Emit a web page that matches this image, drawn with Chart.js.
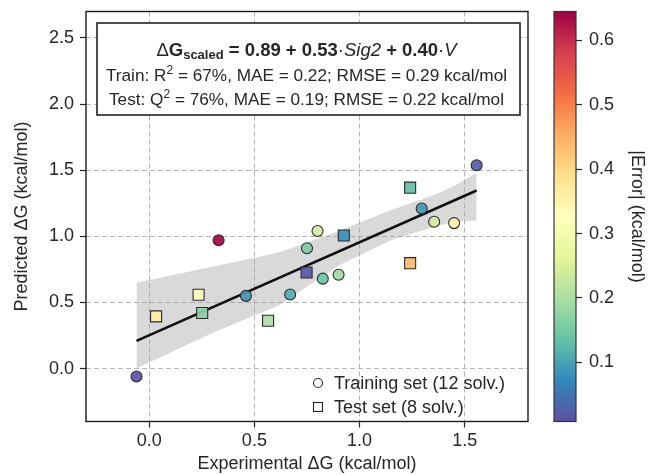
<!DOCTYPE html>
<html><head><meta charset="utf-8">
<script src="https://cdn.jsdelivr.net/npm/chart.js@4/dist/chart.umd.min.js"></script>
<style>html,body{margin:0;padding:0;background:#fff}#wrap{position:relative;width:652px;height:475px}</style>
</head><body><div id="wrap"><canvas id="c" width="652" height="475"></canvas></div>
<script>
// ---- data ----
const trainExp  = [-0.06, 0.33, 0.46, 0.67, 0.75, 0.80, 0.825, 0.90, 1.295, 1.354, 1.449, 1.556];
const trainPred = [-0.06, 0.97, 0.55, 0.56, 0.91, 1.04, 0.68, 0.71, 1.21, 1.11, 1.10, 1.537];
const trainErr  = [0.01, 0.64, 0.09, 0.11, 0.16, 0.24, 0.14, 0.19, 0.09, 0.24, 0.35, 0.02];
const testExp   = [0.033, 0.235, 0.252, 0.565, 0.748, 0.925, 1.24, 1.24];
const testPred  = [0.395, 0.558, 0.42, 0.362, 0.727, 1.006, 1.368, 0.797];
const testErr   = [0.36, 0.32, 0.17, 0.20, 0.02, 0.08, 0.13, 0.44];
const fitX = [-0.06, 1.556];
const fitY = [0.21, 1.347];
const bandX     = [-0.06, 0.3, 0.62, 0.9, 1.15, 1.35, 1.45, 1.556];
const bandUpper = [0.65, 0.77, 0.88, 1.04, 1.20, 1.31, 1.38, 1.48];
const bandLower = [0.00, 0.27, 0.48, 0.78, 0.97, 1.07, 1.11, 1.12];
const xTicks  = [0, 0.5, 1.0, 1.5];
const yTicks  = [0, 0.5, 1.0, 1.5, 2.0, 2.5];
const cbTicks = [0.1, 0.2, 0.3, 0.4, 0.5, 0.6];
const errMin = 0.008, errMax = 0.645;
const legendLabels = ['Training set (12 solv.)', 'Test set (8 solv.)'];
const xTitle = 'Experimental \u0394G (kcal/mol)';
const yTitle = 'Predicted \u0394G (kcal/mol)';
const cbTitle = '|Error| (kcal/mol)';
const boxLines = [
  [{t:'\u0394', w:'', s:18.5}, {t:'G', w:'bold', s:18.5}, {t:'scaled', w:'bold', s:13, dy:4.5}, {t:' = 0.89 + 0.53', w:'bold', s:18.5}, {t:'\u00b7', w:'', s:18.5}, {t:'Sig2', w:'italic', s:18.5}, {t:' + 0.40', w:'bold', s:18.5}, {t:'\u00b7', w:'', s:18.5}, {t:'V', w:'italic', s:18.5}],
  [{t:'Train: R', w:'', s:17.2}, {t:'2', w:'', s:12, dy:-6}, {t:' = 67%, MAE = 0.22; RMSE = 0.29 kcal/mol', w:'', s:17.2}],
  [{t:'Test: Q', w:'', s:17.2}, {t:'2', w:'', s:12, dy:-6}, {t:' = 76%, MAE = 0.19; RMSE = 0.22 kcal/mol', w:'', s:17.2}]
];

const FONT = "'Liberation Sans', Arial, sans-serif";
const TXT = '#262626';
const SPEC = ['#5e4fa2','#3288bd','#66c2a5','#abdda4','#e6f598','#ffffbf','#fee08b','#fdae61','#f46d43','#d53e4f','#9e0142'];
function hex2rgb(h){return [parseInt(h.slice(1,3),16),parseInt(h.slice(3,5),16),parseInt(h.slice(5,7),16)];}
function cmap(t){
  t = Math.max(0, Math.min(1, t));
  const p = t*10, i = Math.min(9, Math.floor(p)), f = p - i;
  const a = hex2rgb(SPEC[i]), b = hex2rgb(SPEC[i+1]);
  return a.map((v,k)=>Math.round(v+(b[k]-v)*f));
}
function errColor(e){const c = cmap((e-errMin)/(errMax-errMin)); return `rgba(${c[0]},${c[1]},${c[2]},0.92)`;}

const pts = (xs, ys) => xs.map((x,i)=>({x, y: ys[i]}));

const decor = {
  id: 'decor',
  afterDraw(chart){
    const ctx = chart.ctx, ca = chart.chartArea;
    // colorbar
    const gap = chart.scales.gap;
    const x1 = gap.right, x0 = x1 - 22;
    const g = ctx.createLinearGradient(0, ca.bottom, 0, ca.top);
    SPEC.forEach((c,i)=>g.addColorStop(i/10, c));
    ctx.save();
    ctx.fillStyle = g;
    ctx.fillRect(x0, ca.top, x1-x0, ca.bottom-ca.top);
    ctx.lineWidth = 1.2; ctx.strokeStyle = '#333';
    ctx.strokeRect(x0, ca.top, x1-x0, ca.bottom-ca.top);
    // frame
    ctx.lineWidth = 1.4; ctx.strokeStyle = '#1a1a1a';
    ctx.strokeRect(ca.left, ca.top, ca.right-ca.left, ca.bottom-ca.top);
    // text box
    const bl = ca.left + 11, bt = ca.top + 11.5, br = ca.right - 8, bb = bt + 92;
    ctx.fillStyle = '#fff';
    ctx.fillRect(bl, bt, br-bl, bb-bt);
    ctx.lineWidth = 1.6; ctx.strokeStyle = '#222';
    ctx.strokeRect(bl, bt, br-bl, bb-bt);
    const cx = (bl+br)/2 - 2;
    const ly = [bt+27.5, bt+53.5, bt+77.5];
    ctx.fillStyle = TXT; ctx.textBaseline = 'middle'; ctx.textAlign = 'left';
    boxLines.forEach((segs, li)=>{
      let w = 0;
      segs.forEach(s=>{ctx.font = `${s.w} ${s.s}px ${FONT}`; s._w = ctx.measureText(s.t).width; w += s._w;});
      let x = cx - w/2;
      segs.forEach(s=>{ctx.font = `${s.w} ${s.s}px ${FONT}`; ctx.fillText(s.t, x, ly[li] + (s.dy||0)); x += s._w;});
    });
    // legend
    const lx = ca.right - 210, ly1 = ca.bottom - 38.5, ly2 = ca.bottom - 14.5;
    ctx.lineWidth = 1.1; ctx.strokeStyle = '#222'; ctx.fillStyle = '#fff';
    ctx.beginPath(); ctx.arc(lx, ly1, 4.5, 0, Math.PI*2); ctx.fill(); ctx.stroke();
    ctx.fillRect(lx-4.5, ly2-4.5, 9, 9); ctx.strokeRect(lx-4.5, ly2-4.5, 9, 9);
    ctx.fillStyle = TXT; ctx.font = `18px ${FONT}`;
    ctx.fillText(legendLabels[0], lx+16, ly1+1);
    ctx.fillText(legendLabels[1], lx+16, ly2+1);
    ctx.restore();
  }
};

const tickFont = {size: 18, family: FONT};
new Chart(document.getElementById('c'), {
  type: 'scatter',
  data: { datasets: [
    {label: legendLabels[0], data: pts(trainExp, trainPred), pointStyle: 'circle', pointRadius: 5.5, pointHoverRadius: 5.5,
     backgroundColor: trainErr.map(errColor), borderColor: '#2b2b2b', borderWidth: 1.1, order: 0},
    {label: legendLabels[1], data: pts(testExp, testPred), pointStyle: 'rect', pointRadius: 7.8, pointHoverRadius: 7.8,
     backgroundColor: testErr.map(errColor), borderColor: '#2b2b2b', borderWidth: 1.1, order: 0},
    {type: 'line', label: 'fit', data: pts(fitX, fitY), borderColor: '#111', borderWidth: 2.6, pointRadius: 0, fill: false, order: 1},
    {type: 'line', label: 'ci_up', data: pts(bandX, bandUpper), borderWidth: 0, borderColor: 'rgba(0,0,0,0)', pointRadius: 0,
     fill: '+1', backgroundColor: 'rgba(160,160,160,0.4)', order: 2},
    {type: 'line', label: 'ci_lo', data: pts(bandX, bandLower), borderWidth: 0, borderColor: 'rgba(0,0,0,0)', pointRadius: 0, fill: false, order: 3}
  ]},
  options: {
    responsive: false, animation: false, devicePixelRatio: 1,
    layout: {padding: {top: 11.5, left: 0, right: 0, bottom: 0}},
    plugins: {legend: {display: false}, tooltip: {enabled: false}},
    scales: {
      x: {type: 'linear', position: 'bottom', min: -0.3, max: 1.8,
        afterBuildTicks: s => { s.ticks = xTicks.map(v => ({value: v})); },
        afterFit: s => { s.height = 53.5; s.paddingLeft = 0; s.paddingRight = 0; },
        ticks: {font: tickFont, color: TXT, padding: 3, maxRotation: 0, autoSkip: false, callback: v => Number(v).toFixed(1)},
        grid: {color: '#b5b5b5', lineWidth: 1, tickLength: 6, tickColor: TXT, tickWidth: 1.2},
        border: {display: false, dash: [5, 3]},
        title: {display: true, text: xTitle, font: tickFont, color: TXT, padding: {top: 0, bottom: 0}}
      },
      y: {type: 'linear', position: 'left', min: -0.4, max: 2.7,
        afterBuildTicks: s => { s.ticks = yTicks.map(v => ({value: v})); },
        afterFit: s => { s.width = 86; s.paddingTop = 0; s.paddingBottom = 0; },
        ticks: {font: tickFont, color: TXT, padding: 6, autoSkip: false, callback: v => Number(v).toFixed(1)},
        grid: {color: '#b5b5b5', lineWidth: 1, tickLength: 6, tickColor: TXT, tickWidth: 1.2},
        border: {display: false, dash: [5, 3]},
        title: {display: true, text: yTitle, font: tickFont, color: TXT, padding: {top: 11, bottom: 0}}
      },
      gap: {type: 'linear', position: 'right', weight: 0, min: 0, max: 1,
        afterFit: s => { s.width = 48; s.paddingTop = 0; s.paddingBottom = 0; },
        ticks: {display: false}, grid: {display: false}, border: {display: false}
      },
      cb: {type: 'linear', position: 'right', weight: 1, min: errMin, max: errMax,
        afterBuildTicks: s => { s.ticks = cbTicks.map(v => ({value: v})); },
        afterFit: s => { s.width = 76; s.paddingTop = 0; s.paddingBottom = 0; },
        ticks: {font: tickFont, color: TXT, padding: 7, autoSkip: false, callback: v => Number(v).toFixed(1)},
        grid: {drawOnChartArea: false, tickLength: 6, tickColor: TXT, tickWidth: 1.2},
        border: {display: false},
        title: {display: true, text: cbTitle, font: tickFont, color: TXT, padding: {top: 4, bottom: 0}}
      }
    }
  },
  plugins: [decor]
});
</script></body></html>
